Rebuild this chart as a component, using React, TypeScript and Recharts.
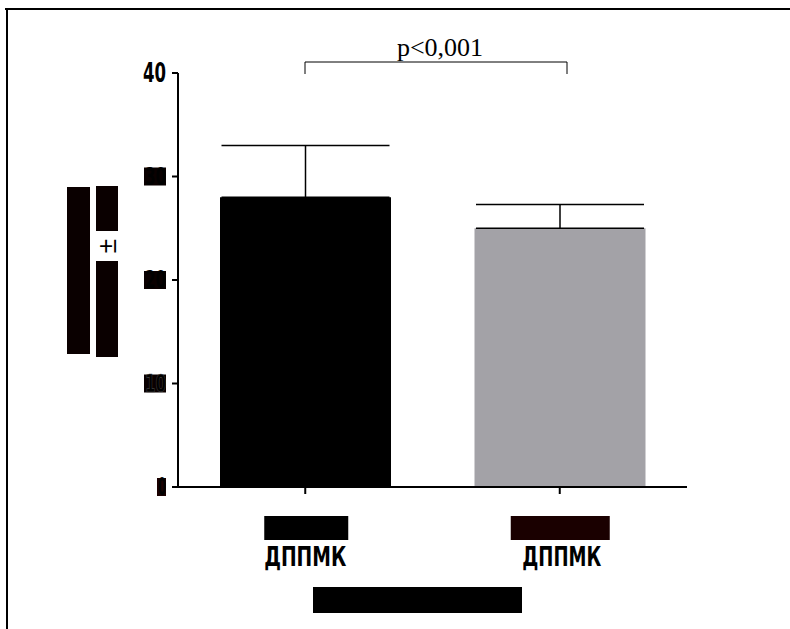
import { Bar, BarChart, Cell, ErrorBar, XAxis, YAxis } from 'recharts'

const groups = ['group1', 'group2']
const groupLabels = ['ДППМК', 'ДППМК']
const means = [28, 25]
const sdUpper = [5, 2.3]
const barColors = ['#000000', '#a3a2a7']
const yTicks = [0, 10, 20, 30, 40]
const pValueText = 'p<0,001'

const data = groups.map((g, i) => ({ name: g, value: means[i], err: [0, sdUpper[i]] }))

const condensed = '"Liberation Sans Narrow", "DejaVu Sans Condensed", Arial, sans-serif'

// tick labels were blacked out in the source; keep the text, draw the boxes over it
function YTick(props: any) {
  const { x, y, payload } = props
  const v = payload.value as number
  const w = v === 0 ? 9 : 22
  if (v === 40) {
    return (
      <text x={x - 4} y={y + 9} textAnchor="end" fontFamily={condensed} fontWeight="bold" fontSize={27}
        fill="#000" textLength={23} lengthAdjust="spacingAndGlyphs">
        {v}
      </text>
    )
  }
  return (
    <g>
      <rect x={x - 4 - w} y={y - 9} width={w} height={18} fill={v === 0 ? '#1a0000' : '#0a0000'} />
      <text x={x - 4} y={y + 8} textAnchor="end" fontFamily={condensed} fontWeight="bold" fontSize={24}
        fill="#000" stroke={v === 10 ? '#555' : 'none'} strokeWidth={0.5}
        textLength={w - 1} lengthAdjust="spacingAndGlyphs">
        {v}
      </text>
    </g>
  )
}

function XTick(props: any) {
  const { x, y, index } = props
  const first = index === 0
  return (
    <g>
      <rect x={first ? x - 41 : x - 49} y={y + 20} width={first ? 84 : 99} height={24} fill={first ? '#000' : '#1a0000'} />
      <text x={first ? x : x + 2} y={y + 70} textAnchor="middle" fontFamily={condensed} fontWeight="bold" fontSize={27}
        fill="#000" textLength={first ? 82 : 79} lengthAdjust="spacingAndGlyphs">
        {groupLabels[index]}
      </text>
    </g>
  )
}

export default function App() {
  return (
    <div style={{ position: 'absolute', left: 0, top: 0, width: 790, height: 629, background: '#fff' }}>
      <BarChart width={790} height={629} data={data} margin={{ top: 73, right: 103, left: 118, bottom: 102 }}>
        <XAxis
          dataKey="name"
          tick={<XTick />}
          tickLine={{ stroke: '#000', strokeWidth: 2 }}
          tickSize={7}
          axisLine={{ stroke: '#000', strokeWidth: 2 }}
          height={40}
          interval={0}
        />
        <YAxis
          domain={[0, 40]}
          ticks={yTicks}
          tick={<YTick />}
          tickLine={{ stroke: '#000', strokeWidth: 2 }}
          tickSize={6}
          axisLine={{ stroke: '#000', strokeWidth: 2 }}
          width={60}
          interval={0}
        />
        <Bar dataKey="value" barSize={171} isAnimationActive={false}>
          {data.map((d, i) => (
            <Cell key={d.name} fill={barColors[i]} />
          ))}
          <ErrorBar dataKey="err" width={84} stroke="#000" strokeWidth={1.5} direction="y" />
        </Bar>
      </BarChart>
      <svg width={790} height={629} style={{ position: 'absolute', left: 0, top: 0, pointerEvents: 'none' }}>
        {/* frame */}
        <line x1={5} y1={9} x2={790} y2={9} stroke="#000" strokeWidth={2} />
        <line x1={7} y1={8} x2={7} y2={629} stroke="#000" strokeWidth={2} />
        {/* significance bracket */}
        <path d="M305,74 V62 H567 V74" fill="none" stroke="#000" strokeWidth={1} />
        <text x={440} y={56} textAnchor="middle" fontFamily='"Liberation Serif", "Times New Roman", serif' fontSize={26} fill="#000">
          {pValueText}
        </text>
        {/* y axis title (blacked out in the source) */}
        <rect x={67} y={187} width={23} height={167} fill="#0a0000" />
        <rect x={96} y={186} width={22} height={45} fill="#0a0000" />
        <text x={0} y={0} transform="translate(116,246) rotate(-90)" textAnchor="middle"
          fontFamily='"Liberation Sans", Arial, sans-serif' fontSize={26} fill="#000">±</text>
        <rect x={96} y={261} width={22} height={96} fill="#0a0000" />
        {/* x axis title (blacked out in the source) */}
        <rect x={313} y={587} width={209} height={26} fill="#000" />
      </svg>
    </div>
  )
}
